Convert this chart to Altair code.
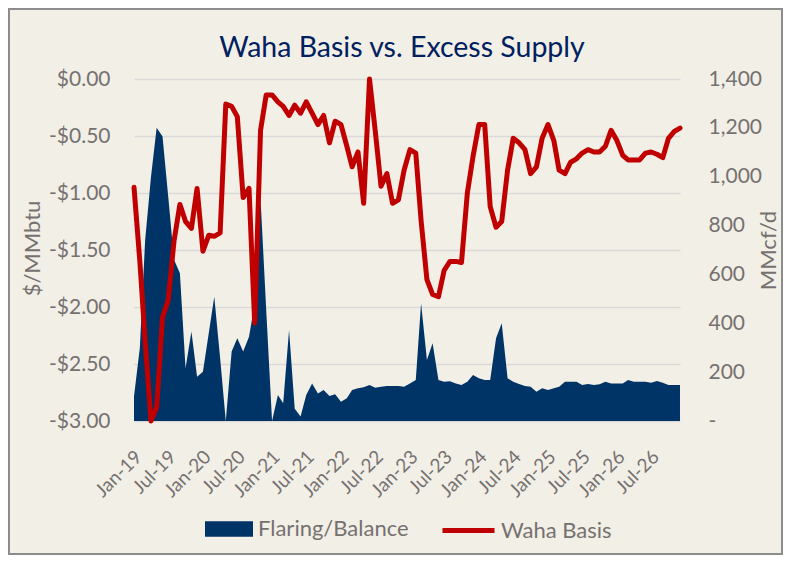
import altair as alt
import pandas as pd

# Monthly categories Jan-2019 .. Dec-2026
months = [f"{y}-{m:02d}-01" for y in range(2019, 2027) for m in range(1, 13)]

# Flaring/Balance (MMcf/d, right axis)
flaring = [
    100, 300, 740, 1000, 1200, 1165, 920, 660, 605, 216, 366, 181,
    202, 360, 509, 258, 0, 284, 339, 284, 345, 480, 910, 455,
    0, 106, 73, 373, 50, 18, 106, 154, 113, 127, 102, 110,
    79, 93, 127, 134, 138, 147, 136, 140, 143, 143, 143, 140,
    154, 168, 482, 250, 318, 168, 161, 163, 154, 147, 161, 188,
    175, 168, 168, 339, 400, 175, 161, 151, 143, 140, 120, 134,
    127, 134, 140, 161, 161, 161, 147, 151, 147, 150, 161, 154,
    154, 154, 168, 161, 161, 161, 157, 164, 157, 147, 147, 147,
]

# Waha Basis ($/MMbtu, left axis)
basis = [
    -0.95, -1.60, -2.30, -3.00, -2.88, -2.09, -1.94, -1.42, -1.10, -1.25, -1.31, -0.96,
    -1.51, -1.37, -1.38, -1.35, -0.22, -0.24, -0.33, -1.04, -0.96, -2.14, -0.45, -0.14,
    -0.14, -0.20, -0.24, -0.32, -0.23, -0.30, -0.20, -0.30, -0.40, -0.32, -0.56, -0.37,
    -0.40, -0.59, -0.77, -0.64, -1.09, 0.00, -0.45, -0.94, -0.83, -1.09, -1.06, -0.80,
    -0.62, -0.65, -1.24, -1.76, -1.89, -1.91, -1.68, -1.60, -1.60, -1.61, -1.00, -0.68,
    -0.40, -0.40, -1.12, -1.30, -1.25, -0.80, -0.52, -0.56, -0.62, -0.83, -0.77, -0.52,
    -0.40, -0.54, -0.80, -0.83, -0.73, -0.70, -0.65, -0.62, -0.64, -0.64, -0.59, -0.45,
    -0.54, -0.67, -0.71, -0.71, -0.71, -0.65, -0.64, -0.66, -0.69, -0.52, -0.46, -0.43,
]

left_ticks = [0, -0.5, -1.0, -1.5, -2.0, -2.5, -3.0]
right_ticks = [0, 200, 400, 600, 800, 1000, 1200, 1400]

df = pd.DataFrame({"date": months, "flaring": flaring, "basis": basis})
df["s1"] = "Flaring/Balance"
df["s2"] = "Waha Basis"

TEXT = "#767171"
FONT = "Lato"
NAVY = "#003366"
RED = "#C00000"
BG = "#F2EFE6"

W, H = 546, 342
PAD = {"left": 126, "top": 71, "right": 103, "bottom": 134}

tick_dates = [alt.DateTime(year=y, month=m, date=1, utc=True)
              for y in range(2019, 2027) for m in (1, 7)]

x_enc = alt.X(
    "date:T",
    scale=alt.Scale(type="utc", domain=[alt.DateTime(year=2019, month=1, date=1, utc=True),
                                        alt.DateTime(year=2026, month=12, date=1, utc=True)]),
    axis=alt.Axis(values=tick_dates, format="%b-%y", labelAngle=-45, labelFontSize=19,
                  labelColor=TEXT, labelFont=FONT, ticks=False, domain=False, grid=False,
                  labelPadding=26, labelOffset=-2, labelOverlap=False, labelFlush=False,
                  title=None),
)

area = alt.Chart(df).mark_area(interpolate="linear", color=NAVY).encode(
    x=x_enc,
    y=alt.Y("flaring:Q", stack=None,
            scale=alt.Scale(domain=[0, 1400], nice=False),
            axis=alt.Axis(orient="right", values=right_ticks,
                          labelExpr="datum.value == 0 ? '-' : format(datum.value, ',')",
                          grid=False, domain=False, ticks=False, labelPadding=28,
                          labelFontSize=21, labelColor=TEXT, labelFont=FONT,
                          title="MMcf/d", titleFontSize=22, titleFont=FONT, titleColor=TEXT,
                          titleFontWeight="normal", titleAngle=270, titleX=88, titleY=171,
                          titleAlign="center", titleBaseline="middle")),
    fill=alt.Fill("s1:N", scale=alt.Scale(domain=["Flaring/Balance"], range=[NAVY]),
                  legend=alt.Legend(title=None, orient="none", legendX=70, legendY=425,
                                    symbolType="M-1,-0.32H1V0.32H-1Z", symbolSize=2304,
                                    labelFontSize=22, labelFont=FONT, labelColor=TEXT,
                                    labelOffset=4, padding=0)),
)

line = alt.Chart(df).mark_line(strokeWidth=5, strokeJoin="round", strokeCap="round").encode(
    x=x_enc,
    y=alt.Y("basis:Q",
            scale=alt.Scale(domain=[-3, 0], nice=False),
            axis=alt.Axis(orient="left", values=left_ticks,
                          labelExpr="datum.value == 0 ? '$0.00' : '-$' + format(-datum.value, '.2f')",
                          grid=True, gridColor="#D9D9D9", gridWidth=1.5, domain=False, ticks=False,
                          labelPadding=24, labelFontSize=21, labelColor=TEXT, labelFont=FONT,
                          title="$/MMbtu", titleFontSize=22, titleFont=FONT, titleColor=TEXT,
                          titleFontWeight="normal", titleAngle=270, titleX=-102, titleY=169,
                          titleAlign="center", titleBaseline="middle")),
    stroke=alt.Stroke("s2:N", scale=alt.Scale(domain=["Waha Basis"], range=[RED]),
                      legend=alt.Legend(title=None, orient="none", legendX=306, legendY=423,
                                        symbolType="stroke", symbolSize=2704, symbolStrokeWidth=5,
                                        labelFontSize=22, labelFont=FONT, labelColor=TEXT,
                                        labelOffset=4, padding=0)),
)

frame = alt.Chart(alt.Data(values=[{"a": 1}])).mark_rect(
    fill="transparent", stroke="#8C8C8C", strokeWidth=2
).encode(
    x=alt.value(-PAD["left"] + 1), x2=alt.value(W + PAD["right"] - 1),
    y=alt.value(-PAD["top"] + 1), y2=alt.value(H + PAD["bottom"] - 1),
)

chart = alt.layer(area, line, frame).resolve_scale(
    y="independent", fill="independent", stroke="independent"
).properties(
    width=W, height=H, padding=PAD,
    autosize=alt.AutoSizeParams(type="none"),
    title=alt.TitleParams("Waha Basis vs. Excess Supply", font=FONT, fontSize=28.5,
                          color="#002060", fontWeight="normal", anchor="middle",
                          frame="group", offset=12, dx=-5, dy=66),
).configure(background=BG).configure_view(stroke="transparent")

chart.save("out.html", embed_options={"renderer": "svg", "actions": False})
